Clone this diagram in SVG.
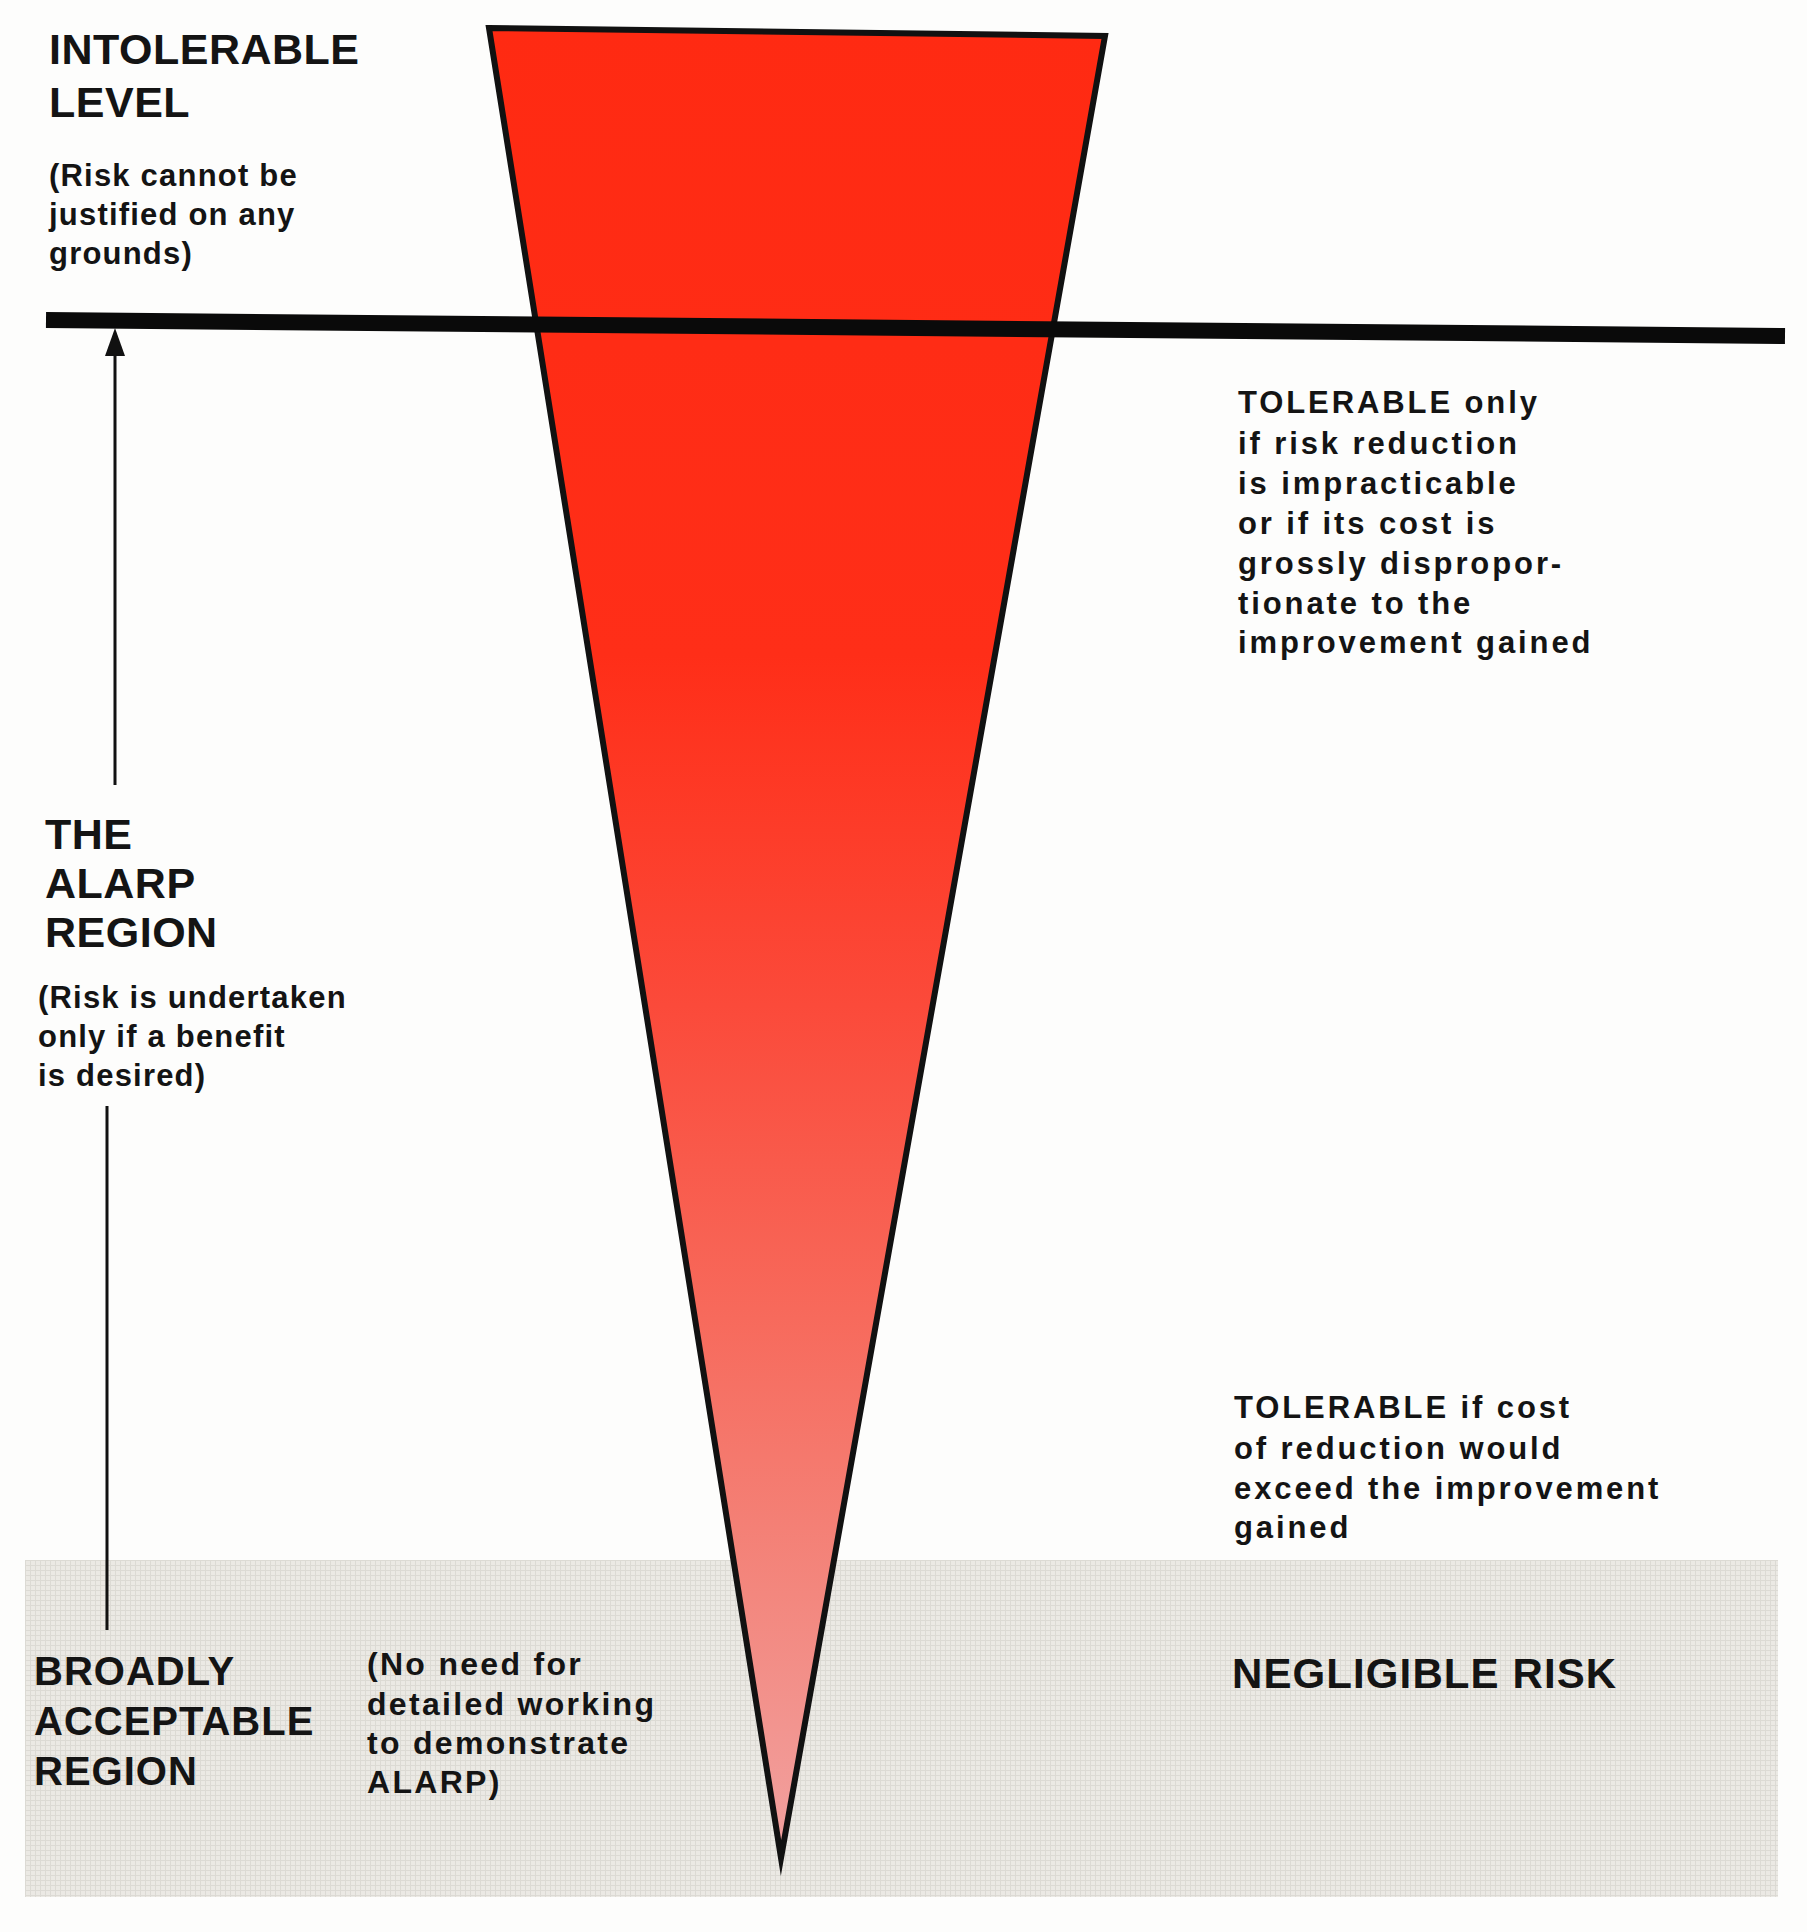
<svg xmlns="http://www.w3.org/2000/svg" width="1807" height="1932" viewBox="0 0 1807 1932">
  <style>
    text { font-family: "Liberation Sans", Arial, Helvetica, sans-serif; font-weight: bold; fill: #141414; }
    .big { font-size: 43px; letter-spacing: 0.5px; }
    .big2 { font-size: 40px; letter-spacing: 1px; }
    .neg { font-size: 42px; letter-spacing: 1.1px; }
    .small { font-size: 31px; letter-spacing: 1.2px; }
    .right { font-size: 31px; letter-spacing: 2.9px; }
    .mid { font-size: 32px; letter-spacing: 2.3px; }
    .conn { stroke: #111; fill: none; }
  </style>
  <defs>
    <linearGradient id="riskGrad" gradientUnits="userSpaceOnUse" x1="0" y1="30" x2="0" y2="1870">
      <stop offset="0" stop-color="#ff2a12"/>
      <stop offset="0.34" stop-color="#ff2e18"/>
      <stop offset="0.53" stop-color="#fb4a3a"/>
      <stop offset="0.7" stop-color="#f76a5c"/>
      <stop offset="0.85" stop-color="#f3877e"/>
      <stop offset="1" stop-color="#f1a3a2"/>
    </linearGradient>
    <pattern id="grid" width="5" height="5" patternUnits="userSpaceOnUse">
      <rect width="5" height="5" fill="#ebe9e4"/>
      <path d="M0 0.5H5M0.5 0V5" stroke="#dcdad4" stroke-width="1"/>
    </pattern>
    <marker id="arrow" viewBox="0 0 20 28" refX="10" refY="0" markerWidth="20" markerHeight="28" markerUnits="userSpaceOnUse" orient="auto-start-reverse">
      <path d="M10 0 L20 28 L0 28 Z" fill="#111"/>
    </marker>
  </defs>

  <rect x="0" y="0" width="1807" height="1932" fill="#fdfdfc"/>

  <g id="negligible-region">
    <rect x="25" y="1560" width="1753" height="337" fill="url(#grid)"/>
  </g>

  <g id="risk-triangle">
    <polygon points="489,28 1105,36 781,1858" fill="url(#riskGrad)" stroke="#111" stroke-width="6" stroke-linejoin="miter" stroke-miterlimit="12"/>
  </g>

  <g id="intolerable-line">
    <line x1="46" y1="320" x2="1785" y2="336" stroke="#0a0a0a" stroke-width="16"/>
  </g>

  <g id="connectors">
    <line class="conn" x1="115" y1="785" x2="115" y2="352" stroke-width="3"/>
    <polygon points="115,328 125,356 105,356" fill="#111"/>
    <line class="conn" x1="107" y1="1106" x2="107" y2="1630" stroke-width="3"/>
  </g>

  <g id="intolerable-label">
    <text class="big" x="49" y="64">INTOLERABLE</text>
    <text class="big" x="49" y="117">LEVEL</text>
    <text class="small" x="49" y="186">(Risk cannot be</text>
    <text class="small" x="49" y="225">justified on any</text>
    <text class="small" x="49" y="264">grounds)</text>
  </g>

  <g id="alarp-label">
    <text class="big" x="45" y="849">THE</text>
    <text class="big" x="45" y="898">ALARP</text>
    <text class="big" x="45" y="947">REGION</text>
    <text class="small" x="38" y="1008">(Risk is undertaken</text>
    <text class="small" x="38" y="1047">only if a benefit</text>
    <text class="small" x="38" y="1086">is desired)</text>
  </g>

  <g id="tolerable-only-label">
    <text class="right" x="1238" y="413">TOLERABLE only</text>
    <text class="right" x="1238" y="454">if risk reduction</text>
    <text class="right" x="1238" y="494">is impracticable</text>
    <text class="right" x="1238" y="534">or if its cost is</text>
    <text class="right" x="1238" y="574">grossly dispropor-</text>
    <text class="right" x="1238" y="614">tionate to the</text>
    <text class="right" x="1238" y="653">improvement gained</text>
  </g>

  <g id="tolerable-if-label">
    <text class="right" x="1234" y="1418">TOLERABLE if cost</text>
    <text class="right" x="1234" y="1459">of reduction would</text>
    <text class="right" x="1234" y="1499">exceed the improvement</text>
    <text class="right" x="1234" y="1538">gained</text>
  </g>

  <g id="broadly-acceptable-label">
    <text class="big2" x="34" y="1685">BROADLY</text>
    <text class="big2" x="34" y="1735">ACCEPTABLE</text>
    <text class="big2" x="34" y="1785">REGION</text>
  </g>

  <g id="no-need-label">
    <text class="mid" x="367" y="1675">(No need for</text>
    <text class="mid" x="367" y="1715">detailed working</text>
    <text class="mid" x="367" y="1754">to demonstrate</text>
    <text class="mid" x="367" y="1793">ALARP)</text>
  </g>

  <g id="negligible-label">
    <text class="neg" x="1232" y="1688">NEGLIGIBLE RISK</text>
  </g>
</svg>
